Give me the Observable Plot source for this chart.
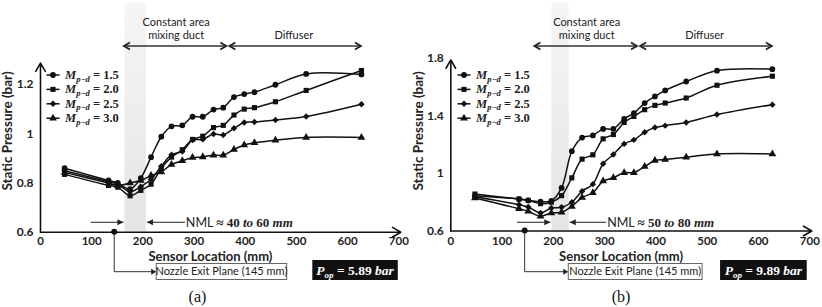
<!DOCTYPE html>
<html><head><meta charset="utf-8">
<script src="https://cdn.jsdelivr.net/npm/d3@7"></script>
<script src="https://cdn.jsdelivr.net/npm/@observablehq/plot@0.6"></script>
<style>
body{margin:0;background:#fff;}
#wrap{display:flex;width:822px;height:307px;overflow:hidden;}
#wrap svg{display:block;overflow:visible;}
</style></head><body><div id="wrap"></div>
<script>
// ---------- data ----------
const sensorX = [47,133,151,175,196,216,236,256,277,297,317,338,357,378,398,418,459,519,627];
const seriesNames = ["1.5","2.0","2.5","3.0"];
const symbols = ["circle","square","diamond2","triangle"];
const xTicks = [0,100,200,300,400,500,600,700];

// panel (a): Pop = 5.89 bar
const a15 = [0.860,0.810,0.800,0.775,0.820,0.905,0.988,1.030,1.034,1.069,1.069,1.098,1.106,1.149,1.161,1.169,1.199,1.243,1.241];
const a20 = [0.835,0.790,0.783,0.748,0.770,0.795,0.860,0.905,0.935,0.977,0.990,1.025,1.034,1.076,1.100,1.106,1.130,1.176,1.257];
const a25 = [0.850,0.805,0.795,0.765,0.785,0.815,0.868,0.915,0.928,0.974,0.977,0.999,0.995,1.022,1.046,1.048,1.056,1.070,1.120];
const a30 = [0.843,0.800,0.790,0.800,0.810,0.830,0.845,0.875,0.890,0.903,0.906,0.913,0.913,0.936,0.954,0.963,0.974,0.985,0.985];
const yTicksA = [0.6,0.8,1,1.2];

// panel (b): Pop = 9.89 bar
const b15 = [0.845,0.822,0.813,0.805,0.810,0.900,1.155,1.250,1.265,1.310,1.310,1.380,1.420,1.490,1.536,1.578,1.640,1.715,1.726];
const b20 = [0.857,0.822,0.813,0.790,0.800,0.846,0.970,1.100,1.130,1.241,1.271,1.355,1.397,1.444,1.474,1.490,1.525,1.614,1.677];
const b25 = [0.838,0.783,0.767,0.726,0.760,0.765,0.800,0.877,0.926,1.068,1.132,1.206,1.234,1.287,1.320,1.333,1.355,1.410,1.479];
const b30 = [0.830,0.755,0.737,0.703,0.726,0.730,0.771,0.833,0.866,0.947,0.970,1.006,1.006,1.048,1.090,1.098,1.113,1.136,1.136];
const yTicksB = [0.6,1,1.4,1.8];

const ductRange = [164, 364];     // constant area mixing duct (mm)
const diffRange = [370, 627];     // diffuser (mm)
const nozzleExit = 145;           // mm
const shadeA = [165, 207], shadeB = [197, 231];
const nmlA = ["40","60"], nmlB = ["50","80"];
const popA = "5.89", popB = "9.89";

const sans = "Lato, 'Open Sans', sans-serif";
const serif = "'Liberation Serif', 'DejaVu Serif', serif";
const symFns = {circle: d3.symbolCircle, square: d3.symbolSquare, diamond2: d3.symbolDiamond2, triangle: d3.symbolTriangle};

function panel(cfg) {
  const rows = [];
  cfg.series.forEach((vals, si) => vals.forEach((v, i) => rows.push({x: sensorX[i], y: v, s: seriesNames[si]})));
  const id = cfg.id;

  const shadeMark = (index, scales, values, dims) => {
    const g = d3.create("svg:g");
    const grad = g.append("defs").append("linearGradient").attr("id", "gr" + id)
      .attr("x1", 0).attr("y1", 0).attr("x2", 0).attr("y2", 1);
    grad.append("stop").attr("offset", "0%").attr("stop-color", "#f6f6f6");
    grad.append("stop").attr("offset", "100%").attr("stop-color", "#e4e4e4");
    const x0 = scales.x(cfg.shade[0]), x1 = scales.x(cfg.shade[1]);
    const yb = scales.y(cfg.yDomain[0]);
    g.append("rect").attr("x", x0).attr("y", 3).attr("width", x1 - x0).attr("height", yb - 3)
      .attr("fill", `url(#gr${id})`);
    return g.node();
  };

  const annot = (index, scales, values, dims) => {
    const X = scales.x, Y = scales.y;
    const g = d3.create("svg:g");
    const dbl = (a, b, yy) => {
      const xa = X(a), xb = X(b);
      g.append("line").attr("x1", xa).attr("x2", xb).attr("y1", yy).attr("y2", yy).attr("stroke", "#333").attr("stroke-width", 1.3);
      g.append("path").attr("d", `M${xa + 6},${yy - 3.5}L${xa},${yy}L${xa + 6},${yy + 3.5}M${xb - 6},${yy - 3.5}L${xb},${yy}L${xb - 6},${yy + 3.5}`)
        .attr("fill", "none").attr("stroke", "#222").attr("stroke-width", 1.8);
    };
    dbl(ductRange[0], ductRange[1], 46);
    dbl(diffRange[0], diffRange[1], 46);
    const t = (txt, x, y, opts = {}) => g.append("text").attr("x", x).attr("y", y)
      .attr("text-anchor", opts.anchor || "middle").attr("font-family", opts.ff || sans)
      .attr("font-size", opts.fs || 11).attr("font-weight", opts.fw || "normal").attr("fill", opts.fill || "#222").text(txt);
    const cx = X((ductRange[0] + ductRange[1]) / 2 + 2);
    t("Constant area", cx, 25.5);
    t("mixing duct", cx, 39);
    t("Diffuser", X(496), 39);

    // legend
    seriesNames.forEach((s, i) => {
      const yy = 75 + i * 14.4;
      g.append("line").attr("x1", 46.5).attr("x2", 59.5).attr("y1", yy).attr("y2", yy).attr("stroke", "#111").attr("stroke-width", 1.5);
      g.append("path").attr("transform", `translate(53,${yy})`).attr("d", d3.symbol(symFns[symbols[i]], 26)()).attr("fill", "#111");
      const tx = g.append("text").attr("x", 65).attr("y", yy + 4).attr("text-anchor", "start").attr("font-family", serif).attr("font-size", 12.5)
        .attr("font-weight", "bold").attr("fill", "#222");
      tx.append("tspan").attr("font-style", "italic").text("M");
      tx.append("tspan").attr("font-style", "italic").attr("font-size", 8.5).attr("dy", 2.5).text("p−d");
      tx.append("tspan").attr("dy", -2.5).text(" = " + s);
    });

    // y label
    g.append("text").attr("transform", "translate(12,131) rotate(-90)").attr("text-anchor", "middle")
      .attr("font-family", sans).attr("font-size", 13.5).attr("font-weight", "bold").attr("fill", "#222").text("Static Pressure (bar)");
    // x label
    t("Sensor Location (mm)", X(333), 260.5, {fs: 13, fw: "bold"});

    // NML arrows
    const ny = 222.3;
    const arr = (xa, xb) => {
      g.append("line").attr("x1", xa).attr("x2", xb).attr("y1", ny).attr("y2", ny).attr("stroke", "#222").attr("stroke-width", 1.1);
      const d = xb > xa ? -1 : 1;
      g.append("path").attr("d", `M${xb},${ny}L${xb + d * 6},${ny - 3}L${xb + d * 6},${ny + 3}Z`).attr("fill", "#222");
    };
    arr(X(cfg.nmlArrow[0]), X(cfg.shade[0]) - 1);
    arr(X(cfg.nmlArrow[1]), X(cfg.shade[1]) + 1);
    const nt = g.append("text").attr("x", X(cfg.nmlArrow[1]) + 1).attr("y", ny + 4.5).attr("text-anchor", "start").attr("font-size", 13).attr("fill", "#222");
    nt.append("tspan").attr("font-family", sans).attr("font-size", 12.5).text("NML ");
    nt.append("tspan").attr("font-family", serif).attr("font-weight", "bold").text("≈ " + cfg.nml[0] + " ");
    nt.append("tspan").attr("font-family", serif).attr("font-weight", "bold").attr("font-style", "italic").text("to");
    nt.append("tspan").attr("font-family", serif).attr("font-weight", "bold").text(" " + cfg.nml[1] + " ");
    nt.append("tspan").attr("font-family", serif).attr("font-weight", "bold").attr("font-style", "italic").text("mm");

    // nozzle exit
    const nx = X(nozzleExit), ay = Y(cfg.yDomain[0]);
    const boxX = X(cfg.nozBox[0]), boxX2 = X(cfg.nozBox[1]);
    g.append("path").attr("d", `M${nx},${ay}V271.7H${boxX - 1}`).attr("fill", "none").attr("stroke", "#333").attr("stroke-width", 1);
    g.append("path").attr("d", `M${boxX},271.7L${boxX - 5},268.7L${boxX - 5},274.7Z`).attr("fill", "#222");
    g.append("circle").attr("cx", nx).attr("cy", ay).attr("r", 3).attr("fill", "#111");
    g.append("rect").attr("x", boxX).attr("y", 263.5).attr("width", boxX2 - boxX).attr("height", 16)
      .attr("fill", "#fff").attr("stroke", "#666").attr("stroke-width", 1);
    t("Nozzle Exit Plane (145 mm)", (boxX + boxX2) / 2, 275.3, {fs: 11});

    // Pop box
    const px1 = X(cfg.popBox[0]), px2 = X(cfg.popBox[1]);
    g.append("rect").attr("x", px1).attr("y", 260).attr("width", px2 - px1).attr("height", 20).attr("fill", "#111");
    const pt = g.append("text").attr("x", (px1 + px2) / 2).attr("y", 275).attr("text-anchor", "middle")
      .attr("font-family", serif).attr("font-size", 13.5).attr("font-weight", "bold").attr("fill", "#fff");
    pt.append("tspan").attr("font-style", "italic").text("P");
    pt.append("tspan").attr("font-style", "italic").attr("font-size", 9).attr("dy", 3).text("op");
    pt.append("tspan").attr("dy", -3).text(" = " + cfg.pop + " ");
    pt.append("tspan").attr("font-style", "italic").text("bar");

    // panel letter
    t(cfg.letter, cfg.letterX, 301.5, {ff: serif, fs: 16, fill: "#111"});
    return g.node();
  };

  return Plot.plot({
    width: 411, height: 307,
    marginLeft: cfg.ml, marginRight: cfg.mr, marginTop: cfg.mt, marginBottom: cfg.mb,
    x: {domain: [0, 700]},
    y: {domain: cfg.yDomain},
    symbol: {domain: seriesNames, range: symbols},
    style: {fontFamily: sans, background: "white", color: "#222", overflow: "visible"},
    marks: [
      shadeMark,
      Plot.axisX(xTicks, {tickSize: 0, tickPadding: cfg.xPad, fontSize: 11.5, fontWeight: "bold", label: null, tickFormat: d => String(d)}),
      Plot.axisY(cfg.yTicks, {tickSize: 0, tickPadding: 7, fontSize: 12, fontWeight: "bold", label: null, tickFormat: d => String(d)}),
      Plot.arrow([0], {x1: 0, x2: 704, y1: cfg.yDomain[0], y2: cfg.yDomain[0], stroke: "#111", strokeWidth: 1.6, headLength: 9}),
      Plot.arrow([0], {x1: 0, x2: 0, y1: cfg.yDomain[0], y2: cfg.yTop, stroke: "#111", strokeWidth: 1.6, headLength: 9}),
      Plot.line(rows, {x: "x", y: "y", z: "s", curve: "catmull-rom", stroke: "#111", strokeWidth: 1.5}),
      Plot.dot(rows, {x: "x", y: "y", symbol: "s", fill: "#111", r: 2.9}),
      annot
    ]
  });
}

const wrap = document.getElementById("wrap");
wrap.append(panel({
  id: "a", series: [a15, a20, a25, a30], yDomain: [0.6, 1.3], yTop: 1.287, yTicks: yTicksA,
  ml: 40, mr: 12.7, mt: 59.4, mb: 75.3, xPad: 5,
  shade: shadeA, nml: nmlA, nmlArrow: [99, 283], nozBox: [227, 482], popBox: [532, 699], pop: popA,
  letter: "(a)", letterX: 197.5
}));
wrap.append(panel({
  id: "b", series: [b15, b20, b25, b30], yDomain: [0.6, 1.8], yTop: 1.79, yTicks: yTicksB,
  ml: 39.3, mr: 12.7, mt: 58, mb: 76.5, xPad: 5.5,
  shade: shadeB, nml: nmlB, nmlArrow: [130, 304], nozBox: [230, 491], popBox: [526, 695], pop: popB,
  letter: "(b)", letterX: 210
}));
</script></body></html>
